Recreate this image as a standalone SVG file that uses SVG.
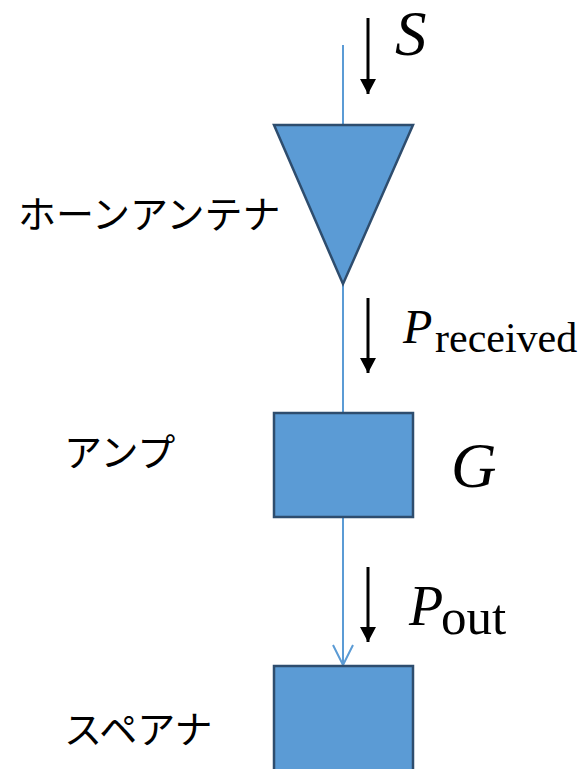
<svg xmlns="http://www.w3.org/2000/svg" width="581" height="769" viewBox="0 0 581 769">
<style>
.shape{fill:#5B9BD5;stroke:#2E4D6E;stroke-width:2.5}
.wire{stroke:#5B9BD5;stroke-width:2;fill:none}
.flow{stroke:#000;stroke-width:3;fill:none}
.jp{font-family:"Noto Sans CJK JP","Noto Sans",sans-serif;font-size:38px;fill:#000}
.m{font-family:"Liberation Serif",serif;font-style:italic;fill:#000}
.r{font-family:"Liberation Serif",serif;fill:#000}
</style>
<defs>
<marker id="bh" markerWidth="16" markerHeight="16" viewBox="0 0 16 16" refX="15" refY="8" orient="auto" markerUnits="userSpaceOnUse">
<path d="M0,0 L15,8 L0,16 Z" fill="#000"/>
</marker>
<marker id="oh" markerWidth="24" markerHeight="24" viewBox="0 0 24 24" refX="21" refY="12" orient="auto" markerUnits="userSpaceOnUse">
<path d="M1,2 L21,12 L1,22" fill="none" stroke="#5B9BD5" stroke-width="2"/>
</marker>
</defs>
<g id="connectors">
<line class="wire" x1="343" y1="45" x2="343" y2="126"/>
<line class="wire" x1="343" y1="283" x2="343" y2="413"/>
<line class="wire" x1="343" y1="517" x2="343" y2="665" marker-end="url(#oh)"/>
<line class="flow" x1="368" y1="18" x2="368" y2="94" marker-end="url(#bh)"/>
<line class="flow" x1="368" y1="298" x2="368" y2="373" marker-end="url(#bh)"/>
<line class="flow" x1="368" y1="567" x2="368" y2="642" marker-end="url(#bh)"/>
</g>
<g id="horn">
<polygon class="shape" points="274,125 413,125 343,284"/>
<text class="jp" x="18" y="228">ホーンアンテナ</text>
</g>
<g id="amp">
<rect class="shape" x="274" y="413" width="139" height="104"/>
<text class="jp" x="64" y="466">アンプ</text>
<text class="m" x="451" y="487" font-size="63">G</text>
</g>
<g id="spectrum">
<rect class="shape" x="274" y="666" width="139" height="110"/>
<text class="jp" x="64" y="743">スペアナ</text>
</g>
<g id="labels">
<text class="m" x="395" y="55" font-size="63">S</text>
<text class="m" x="403" y="343" font-size="48">P</text>
<text class="r" x="435" y="352" font-size="42">received</text>
<text class="m" x="409" y="625" font-size="56">P</text>
<text class="r" x="441" y="634" font-size="51">out</text>
</g>
</svg>
